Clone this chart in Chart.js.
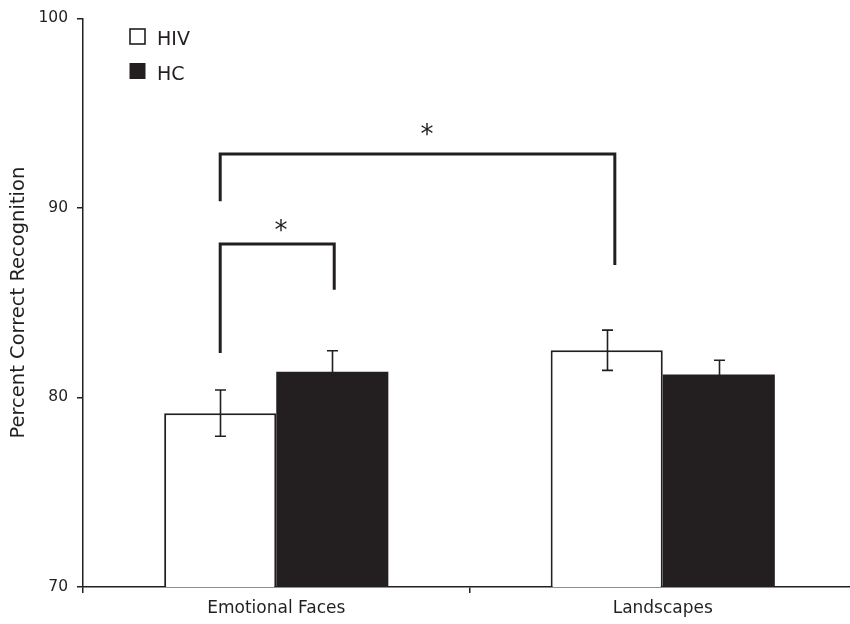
<!DOCTYPE html>
<html>
<head>
<meta charset="utf-8">
<script src="https://cdn.jsdelivr.net/npm/chart.js@4.4.1/dist/chart.umd.min.js"></script>
<style>
  html, body { margin: 0; padding: 0; background: #fff; overflow: hidden; }
  #wrap { width: 856px; height: 624px; }
</style>
</head>
<body>
<div id="wrap"><canvas id="c" width="856" height="624"></canvas></div>
<script>
// Recognition accuracy by stimulus type and group
const categories = ['Emotional Faces', 'Landscapes'];
const seriesNames = ['HIV', 'HC'];
const hivMeans = [79.17, 82.49];
const hcMeans = [81.35, 81.21];
const hivErrors = [1.22, 1.06];
const hcErrors = [1.11, 0.75];
const yTicks = [70, 80, 90, 100];

// Significance brackets: span in category units, top value, leg end values
const bracketSpans = [[-0.145, 0.15], [-0.145, 0.876]];
const bracketTops = [88.1, 92.84];
const bracketLegEnds = [[82.35, 85.68], [90.35, 86.98]];
const starPositions = [[0.012, 89.2], [0.39, 94.27]];

const INK = '#231f20';
const FONT = "'DejaVu Sans', Verdana, sans-serif";

function catToPixel(xs, v) {
  const p0 = xs.getPixelForValue(0);
  const p1 = xs.getPixelForValue(1);
  return p0 + v * (p1 - p0);
}

const annotations = {
  id: 'annotations',
  afterDatasetsDraw(chart) {
    const ctx = chart.ctx;
    const xs = chart.scales.x, ys = chart.scales.y;
    ctx.save();
    // error bars
    const errs = [hivErrors, hcErrors];
    const means = [hivMeans, hcMeans];
    ctx.strokeStyle = INK;
    ctx.lineWidth = 1.6;
    chart.data.datasets.forEach((ds, di) => {
      chart.getDatasetMeta(di).data.forEach((bar, i) => {
        const x = Math.round(bar.x) + 0.5;
        const yHi = ys.getPixelForValue(means[di][i] + errs[di][i]);
        const yLo = ys.getPixelForValue(means[di][i] - errs[di][i]);
        ctx.beginPath();
        ctx.moveTo(x, yLo); ctx.lineTo(x, yHi);
        ctx.moveTo(x - 5.5, yHi); ctx.lineTo(x + 5.5, yHi);
        ctx.moveTo(x - 5.5, yLo); ctx.lineTo(x + 5.5, yLo);
        ctx.stroke();
      });
    });
    // significance brackets
    ctx.lineWidth = 3;
    ctx.lineJoin = 'miter';
    bracketSpans.forEach((span, k) => {
      const xl = catToPixel(xs, span[0]);
      const xr = catToPixel(xs, span[1]);
      const yt = ys.getPixelForValue(bracketTops[k]);
      ctx.beginPath();
      ctx.moveTo(xl, ys.getPixelForValue(bracketLegEnds[k][0]));
      ctx.lineTo(xl, yt);
      ctx.lineTo(xr, yt);
      ctx.lineTo(xr, ys.getPixelForValue(bracketLegEnds[k][1]));
      ctx.stroke();
    });
    // asterisks
    ctx.fillStyle = INK;
    ctx.font = '26px ' + FONT;
    ctx.textAlign = 'center';
    ctx.textBaseline = 'alphabetic';
    starPositions.forEach(([cx, cy]) => {
      ctx.fillText('*', catToPixel(xs, cx), ys.getPixelForValue(cy) + 16);
    });
    // legend
    ctx.font = '19px ' + FONT;
    ctx.textAlign = 'left';
    chart.data.datasets.forEach((ds, di) => {
      const top = 29 + di * 34.5;
      if (di === 0) {
        ctx.fillStyle = '#fff';
        ctx.fillRect(130, top, 15, 15);
        ctx.lineWidth = 1.6;
        ctx.strokeStyle = INK;
        ctx.strokeRect(130, top, 15, 15);
      } else {
        ctx.fillStyle = INK;
        ctx.fillRect(129.5, top - 0.5, 16, 16);
      }
      ctx.fillStyle = INK;
      ctx.fillText(ds.label, 157, top + 16);
    });
    ctx.restore();
  }
};

new Chart(document.getElementById('c'), {
  type: 'bar',
  data: {
    labels: categories,
    datasets: [
      {
        label: seriesNames[0],
        data: hivMeans,
        backgroundColor: '#ffffff',
        borderColor: INK,
        borderWidth: 2,
        borderSkipped: 'bottom',
        categoryPercentage: 0.58,
        barPercentage: 1.0
      },
      {
        label: seriesNames[1],
        data: hcMeans,
        backgroundColor: INK,
        borderWidth: 0,
        categoryPercentage: 0.58,
        barPercentage: 1.0
      }
    ]
  },
  options: {
    responsive: false,
    devicePixelRatio: 1,
    animation: false,
    layout: { padding: { top: 17, right: 0, left: 0, bottom: 0 } },
    plugins: {
      legend: { display: false },
      tooltip: { enabled: false }
    },
    scales: {
      x: {
        offset: true,
        grid: {
          display: true,
          offset: true,
          drawOnChartArea: false,
          drawTicks: true,
          tickLength: 6,
          color: INK,
          lineWidth: 1.5
        },
        border: { display: true, color: INK, width: 1.5 },
        ticks: {
          color: INK,
          font: { family: FONT, size: 17 },
          padding: 5,
          maxRotation: 0
        },
        afterFit(s) { s.height = 37; }
      },
      y: {
        min: 70,
        max: 100,
        afterBuildTicks(s) { s.ticks = yTicks.map(v => ({ value: v })); },
        grid: {
          display: true,
          drawOnChartArea: false,
          drawTicks: true,
          tickLength: 6,
          color: INK,
          lineWidth: 1.5
        },
        border: { display: true, color: INK, width: 1.5 },
        ticks: {
          color: INK,
          font: { family: FONT, size: 15.5 },
          padding: 9
        },
        title: {
          display: true,
          text: 'Percent Correct Recognition',
          color: INK,
          font: { family: FONT, size: 19.5 },
          padding: { top: 7, bottom: 0 }
        },
        afterFit(s) { s.width = 83; }
      }
    }
  },
  plugins: [annotations]
});
</script>
</body>
</html>
